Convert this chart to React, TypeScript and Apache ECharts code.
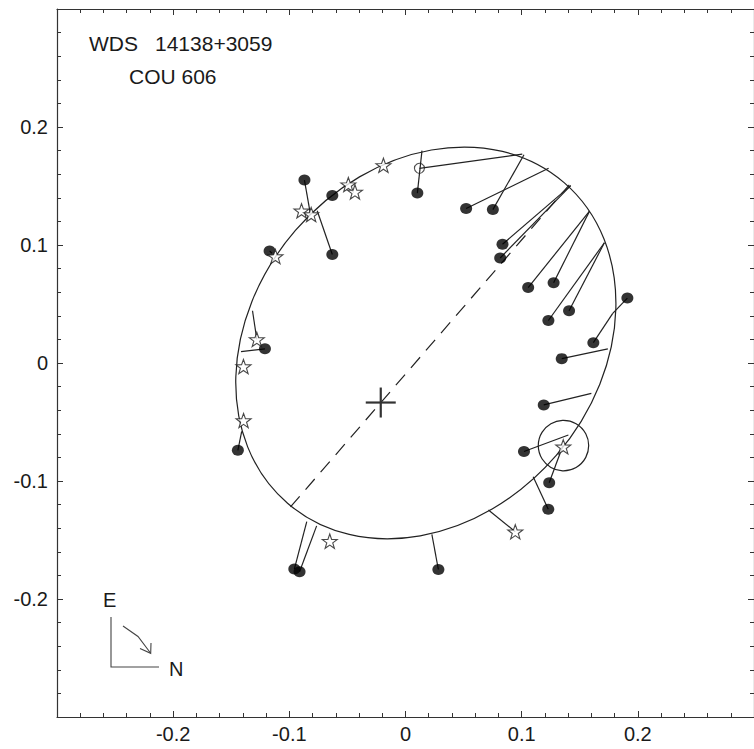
import React, { useEffect, useRef } from "react";
import * as echarts from "echarts";

// ---- axis setup ----
const AXIS_MIN = -0.3;
const AXIS_MAX = 0.3;
const AXIS_STEP = 0.1;

// ---- title texts ----
const titleWds = "WDS";
const titleCoord = "14138+3059";
const titleName = "COU 606";
const compassE = "E";
const compassN = "N";

// ---- apparent orbit (ellipse) ----
const orbitCenter = [0.0175, 0.017];
const orbitSemiAxes = [0.1823, 0.146];
const orbitAngleDeg = 49.2;

// ---- primary star & line of apsides ----
const primaryPos = [-0.0213, -0.0335];
const apsidesX = [-0.099, 0.141];
const apsidesY = [-0.122, 0.151];

// ---- highlighted measure circle ----
const markCircle = [0.136, -0.07, 0.0217];

// ---- filled dots: observed position and fitted position on the orbit ----
const dotX = [-0.087, -0.063, -0.063, -0.117, -0.121, -0.1443, -0.0957, -0.0912, 0.0283, 0.1229, 0.1237, 0.102, 0.119, 0.1345, 0.1617, 0.191, 0.123, 0.1056, 0.1275, 0.1408, 0.0835, 0.0815, 0.0522, 0.0752, 0.0102];
const dotY = [0.155, 0.142, 0.092, 0.095, 0.012, -0.074, -0.1746, -0.1769, -0.175, -0.124, -0.1015, -0.075, -0.0355, 0.0037, 0.0172, 0.055, 0.036, 0.0639, 0.068, 0.0443, 0.1006, 0.089, 0.131, 0.13, 0.144];
const dotFitX = [-0.082, -0.063, -0.076, -0.115, -0.1416, -0.141, -0.085, -0.0765, 0.0227, 0.1099, 0.1357, 0.1402, 0.16, 0.1742, 0.1784, 0.1784, 0.1712, 0.1584, 0.1584, 0.1712, 0.1422, 0.1422, 0.1232, 0.102, 0.0142];
const dotFitY = [0.127, 0.142, 0.129, 0.093, 0.0096, -0.058, -0.1345, -0.138, -0.1452, -0.0963, -0.0695, -0.061, -0.0257, 0.0119, 0.0421, 0.0421, 0.1019, 0.1287, 0.1287, 0.1019, 0.1503, 0.1503, 0.165, 0.1765, 0.18];

// ---- open stars ----
const starX = [-0.019, -0.0492, -0.0435, -0.0895, -0.0812, -0.112, -0.128, -0.1395, -0.1394, -0.0652, 0.0945, 0.1358];
const starY = [0.1675, 0.1512, 0.145, 0.129, 0.1258, 0.0902, 0.02, -0.003, -0.0487, -0.151, -0.143, -0.071];
const starFitX = [-0.019, -0.0492, -0.0435, -0.0895, -0.0812, -0.112, -0.1317, -0.1395, -0.1394, -0.0652, 0.0714, 0.1358];
const starFitY = [0.1675, 0.1512, 0.145, 0.129, 0.1258, 0.0902, 0.0443, -0.003, -0.0487, -0.151, -0.1246, -0.071];

// ---- open circle ----
const openX = [0.012];
const openY = [0.165];
const openFitX = [0.1005];
const openFitY = [0.177];

const STAR_PATH =
  "path://M0,-10L2.35,-3.24L9.51,-3.09L3.8,1.24L5.88,8.09L0,4L-5.88,8.09L-3.8,1.24L-9.51,-3.09L-2.35,-3.24Z";

const FONT = "'Liberation Sans', Arial, Helvetica, sans-serif";
const INK = "#222";

export default function App() {
  const ref = useRef<HTMLDivElement>(null);

  useEffect(() => {
    if (!ref.current) return;
    const chart = echarts.init(ref.current, undefined, { renderer: "svg" });

    const residuals: number[][] = [];
    dotX.forEach((x, i) => residuals.push([x, dotY[i], dotFitX[i], dotFitY[i]]));
    starX.forEach((x, i) => residuals.push([x, starY[i], starFitX[i], starFitY[i]]));
    openX.forEach((x, i) => residuals.push([x, openY[i], openFitX[i], openFitY[i]]));

    const axisCommon = {
      type: "value" as const,
      min: AXIS_MIN,
      max: AXIS_MAX,
      interval: AXIS_STEP,
      splitLine: { show: false },
      axisLine: { show: true, onZero: false, lineStyle: { color: "#333", width: 1.2 } },
      axisTick: { show: true, inside: true, length: 6, lineStyle: { color: "#333", width: 1 } },
      minorTick: { show: true, splitNumber: 5, length: 4, lineStyle: { color: "#333", width: 1 } },
    };
    const labelCommon = {
      showMinLabel: false,
      showMaxLabel: false,
      color: "#1a1a1a",
      fontSize: 20,
      fontFamily: FONT,
    };

    chart.setOption({
      animation: false,
      backgroundColor: "#fff",
      grid: { left: 57, top: 9, width: 706, height: 708, containLabel: false },
      xAxis: [
        { ...axisCommon, position: "bottom", axisLabel: { ...labelCommon, margin: 7 } },
        { ...axisCommon, position: "top", axisLabel: { show: false } },
      ],
      yAxis: [
        { ...axisCommon, position: "left", axisLabel: { ...labelCommon, margin: 9 } },
        { ...axisCommon, position: "right", axisLabel: { show: false } },
      ],
      series: [
        {
          type: "custom",
          name: "orbit",
          silent: true,
          z: 2,
          data: [[orbitCenter[0], orbitCenter[1], orbitSemiAxes[0], orbitSemiAxes[1], orbitAngleDeg]],
          renderItem: (_p: any, api: any) => {
            const c = api.coord([api.value(0), api.value(1)]);
            const s = api.size([api.value(2), api.value(3)]);
            return {
              type: "ellipse",
              x: c[0],
              y: c[1],
              rotation: (api.value(4) * Math.PI) / 180,
              shape: { cx: 0, cy: 0, rx: s[0], ry: s[1] },
              style: { fill: "none", stroke: INK, lineWidth: 1.2 },
            };
          },
        },
        {
          type: "custom",
          name: "residuals",
          silent: true,
          z: 3,
          data: residuals,
          renderItem: (_p: any, api: any) => {
            const a = api.coord([api.value(0), api.value(1)]);
            const b = api.coord([api.value(2), api.value(3)]);
            return {
              type: "line",
              shape: { x1: a[0], y1: a[1], x2: b[0], y2: b[1] },
              style: { stroke: INK, lineWidth: 1.2 },
            };
          },
        },
        {
          type: "line",
          name: "apsides",
          silent: true,
          z: 3,
          symbol: "none",
          data: apsidesX.map((x, i) => [x, apsidesY[i]]),
          lineStyle: { color: INK, width: 1.2, type: [14, 9] },
        },
        {
          type: "custom",
          name: "primary",
          silent: true,
          z: 4,
          data: [primaryPos],
          renderItem: (_p: any, api: any) => {
            const c = api.coord([api.value(0), api.value(1)]);
            const h = 15;
            return {
              type: "group",
              children: [
                { type: "line", shape: { x1: c[0] - h, y1: c[1], x2: c[0] + h, y2: c[1] }, style: { stroke: "#333", lineWidth: 2.2 } },
                { type: "line", shape: { x1: c[0], y1: c[1] - h, x2: c[0], y2: c[1] + h }, style: { stroke: "#333", lineWidth: 2.2 } },
              ],
            };
          },
        },
        {
          type: "custom",
          name: "mark",
          silent: true,
          z: 4,
          data: [markCircle],
          renderItem: (_p: any, api: any) => {
            const c = api.coord([api.value(0), api.value(1)]);
            const r = api.size([api.value(2), 0])[0];
            return {
              type: "circle",
              shape: { cx: c[0], cy: c[1], r },
              style: { fill: "none", stroke: INK, lineWidth: 1.2 },
            };
          },
        },
        {
          type: "scatter",
          name: "dots",
          silent: true,
          z: 5,
          symbol: "circle",
          symbolSize: [12, 11],
          itemStyle: { color: "#000" },
          data: dotX.map((x, i) => [x, dotY[i]]),
        },
        {
          type: "scatter",
          name: "stars",
          silent: true,
          z: 6,
          symbol: STAR_PATH,
          symbolSize: 15,
          symbolKeepAspect: true,
          itemStyle: { color: "#fff", borderColor: "#1a1a1a", borderWidth: 1.1 },
          data: starX.map((x, i) => [x, starY[i]]),
        },
        {
          type: "scatter",
          name: "open",
          silent: true,
          z: 6,
          symbol: "circle",
          symbolSize: 10,
          itemStyle: { color: "rgba(0,0,0,0)", borderColor: "#222", borderWidth: 1.1 },
          data: openX.map((x, i) => [x, openY[i]]),
        },
      ],
      graphic: [
        { type: "text", left: 89, top: 33, style: { text: titleWds, fontSize: 21, fontFamily: FONT, fill: "#1a1a1a" } },
        { type: "text", left: 155, top: 33, style: { text: titleCoord, fontSize: 21, fontFamily: FONT, fill: "#1a1a1a" } },
        { type: "text", left: 129, top: 66, style: { text: titleName, fontSize: 21, fontFamily: FONT, fill: "#1a1a1a" } },
        { type: "text", left: 103, top: 590, style: { text: compassE, fontSize: 20, fontFamily: FONT, fill: "#1a1a1a" } },
        { type: "text", left: 169, top: 659, style: { text: compassN, fontSize: 20, fontFamily: FONT, fill: "#1a1a1a" } },
        { type: "polyline", shape: { points: [[111, 617], [111, 667], [159, 667]] }, style: { stroke: "#444", lineWidth: 1.1, fill: "none" } },
        { type: "polyline", shape: { points: [[123, 626], [138, 636.5], [150.5, 653]] }, style: { stroke: "#444", lineWidth: 1.1, fill: "none" } },
        { type: "polyline", shape: { points: [[140, 648.5], [150.7, 653.3], [151, 643]] }, style: { stroke: "#444", lineWidth: 1.1, fill: "none" } },
      ],
    });

    return () => chart.dispose();
  }, []);

  return (
    <div
      ref={ref}
      style={{ position: "fixed", left: 0, top: 0, width: 754, height: 749, background: "#fff" }}
    />
  );
}
